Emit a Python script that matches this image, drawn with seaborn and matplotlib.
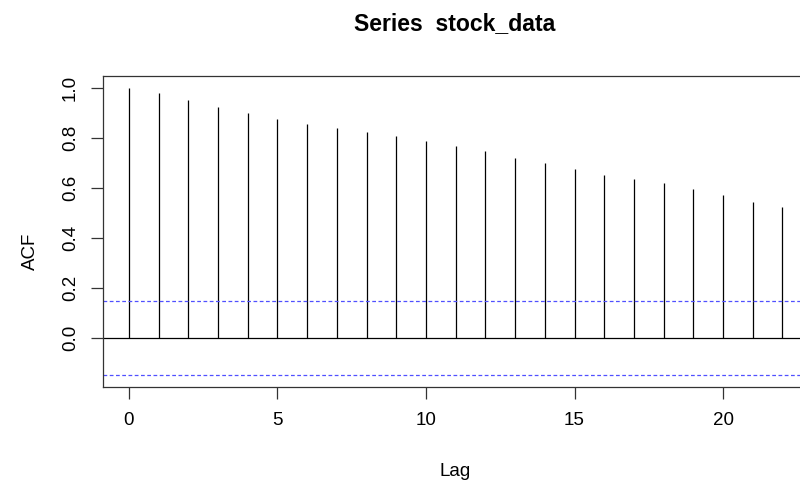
import numpy as np
import pandas as pd
import matplotlib
matplotlib.use("Agg")
import matplotlib.pyplot as plt
import seaborn as sns

# Sample autocorrelation of stock_data by lag
lags = list(range(0, 23))
acf_values = [1.000, 0.977, 0.951, 0.921, 0.899, 0.875, 0.856, 0.837, 0.821,
              0.805, 0.787, 0.767, 0.748, 0.720, 0.697, 0.676, 0.652, 0.633,
              0.617, 0.595, 0.572, 0.543, 0.524]
conf_bound = 0.149  # 1.96 / sqrt(n)
x_ticks = [0, 5, 10, 15, 20]
y_ticks = [0.0, 0.2, 0.4, 0.6, 0.8, 1.0]

df = pd.DataFrame({"Lag": lags, "ACF": acf_values})

sns.set_theme(style="white")
plt.rcParams["font.family"] = ["Liberation Sans", "DejaVu Sans"]

fig = plt.figure(figsize=(8.0, 4.84), dpi=100)
ax = fig.add_axes([0.1284, 0.2004, 0.8824, 0.6426])

# spikes from zero up to each autocorrelation
ax.vlines(df["Lag"], 0, df["ACF"], color="black", linewidth=0.9)
ax.axhline(0, color="black", linewidth=0.9)
for b in (conf_bound, -conf_bound):
    ax.axhline(b, color="#5050ff", linewidth=0.9, linestyle=(0, (3, 2)))

ax.set_xlim(-0.88, 22.88)
ax.set_ylim(-0.196, 1.046)
ax.set_xticks(x_ticks)
ax.set_yticks(y_ticks)
ax.set_xticklabels([str(t) for t in x_ticks])
ax.set_yticklabels([f"{t:.1f}" for t in y_ticks], rotation=90, va="center")

for s in ax.spines.values():
    s.set_color("#333333")
    s.set_linewidth(0.9)
ax.tick_params(axis="both", direction="out", length=8.5, width=0.9,
               color="#333333", labelsize=13.5, labelcolor="black",
               bottom=True, left=True)
ax.tick_params(axis="x", pad=9.5)
ax.tick_params(axis="y", pad=8.5)
ax.set_xlabel("")
ax.set_ylabel("")

fig.text(455 / 800, 1 - 30 / 484, "Series  stock_data", ha="center",
         va="baseline", fontsize=16.6, fontweight="bold", color="black")
fig.text(455 / 800, 1 - 476 / 484, "Lag", ha="center", va="baseline",
         fontsize=13.5, color="black")
fig.text(30 / 800, 1 - 233 / 484, "ACF", ha="right", va="center",
         rotation=90, rotation_mode="anchor", fontsize=13.5, color="black")

fig.savefig("out.png", dpi=100)
